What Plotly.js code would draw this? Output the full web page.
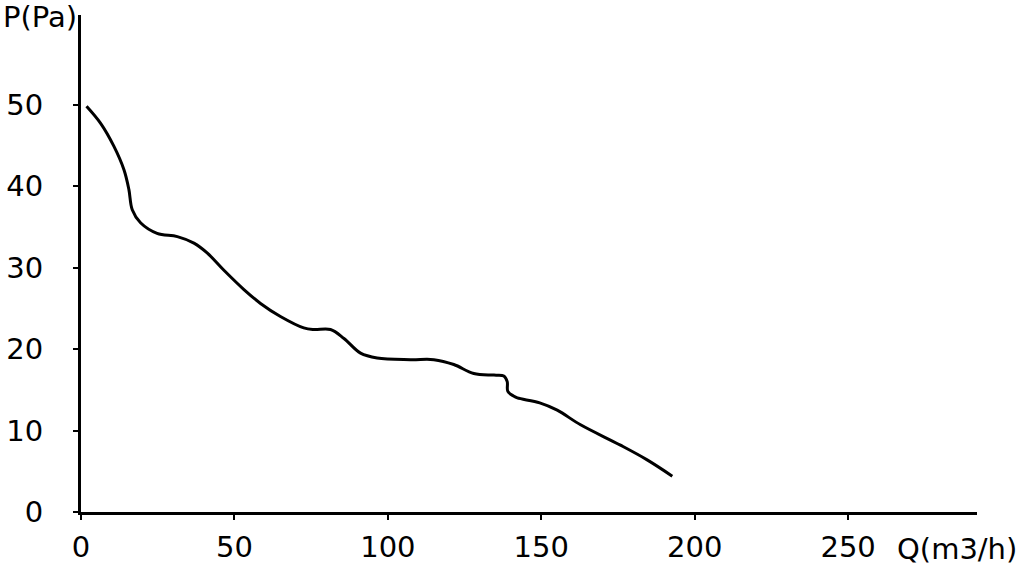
<!DOCTYPE html>
<html>
<head>
<meta charset="utf-8">
<script src="https://cdn.plot.ly/plotly-3.0.1.min.js"></script>
<style>html,body{margin:0;padding:0;background:#fff;}#chart{width:1019px;height:565px;}</style>
</head>
<body>
<div id="chart"></div>
<script>
const flowQ = [1.8, 6.4, 10.7, 14.0, 15.6, 16.7, 19.4, 24.8, 31.4, 36.8, 41.1, 46.5, 53.1, 58.5, 65.0, 72.6, 75.9, 81.3, 85.7, 91.1, 96.5, 107.4, 115.0, 121.5, 128.0, 134.6, 137.8, 138.9, 139.1, 141.1, 142.2, 149.5, 155.2, 162.8, 175.8, 184.5, 192.7];
const pressureP = [49.8, 47.7, 44.9, 42.0, 39.6, 37.1, 35.5, 34.2, 33.8, 33.0, 31.8, 29.7, 27.3, 25.6, 24.0, 22.6, 22.4, 22.4, 21.3, 19.5, 18.9, 18.7, 18.7, 18.1, 17.0, 16.8, 16.7, 16.0, 14.8, 14.2, 14.0, 13.4, 12.5, 10.7, 8.2, 6.4, 4.4];
const xTicks = [0, 50, 100, 150, 200, 250];
const yTicks = [0, 10, 20, 30, 40, 50];
const yLabel = "P(Pa)";
const xLabel = "Q(m3/h)";

const fontFam = "'DejaVu Sans', sans-serif";
const fsz = 29;
const trace = {
  x: flowQ, y: pressureP, type: 'scatter', mode: 'lines',
  line: {color: '#000', width: 3, shape: 'spline', smoothing: 1},
  hoverinfo: 'skip'
};
const L = 80.5, R = 42, T = 15, B = 53;
const pw = 1019 - L - R;
const ph = 565 - T - B;
const layout = {
  width: 1019, height: 565,
  margin: {l: L, r: R, t: T, b: B, pad: 0},
  paper_bgcolor: '#fff', plot_bgcolor: '#fff',
  showlegend: false,
  font: {family: fontFam, size: fsz, color: '#000'},
  xaxis: {
    range: [0, 292], tickvals: xTicks, ticktext: xTicks.map(String),
    showline: true, linecolor: '#000', linewidth: 3,
    ticks: 'outside', ticklen: 5, tickwidth: 2, tickcolor: '#000',
    showgrid: false, zeroline: false, fixedrange: true,
    ticklabelstandoff: 2,
    tickfont: {family: fontFam, size: fsz, color: '#000'}
  },
  yaxis: {
    range: [0, 61], tickvals: yTicks, ticktext: yTicks.map(String),
    showline: true, linecolor: '#000', linewidth: 3,
    ticks: 'outside', ticklen: 5, tickwidth: 2, tickcolor: '#000',
    showgrid: false, zeroline: false, fixedrange: true,
    ticklabelstandoff: 24,
    tickfont: {family: fontFam, size: fsz, color: '#000'}
  },
  annotations: [
    {text: yLabel, xref: 'paper', yref: 'paper', x: -L / pw, y: 1 - 2 / ph,
     xanchor: 'left', yanchor: 'middle', showarrow: false,
     font: {family: fontFam, size: fsz, color: '#000'}},
    {text: xLabel, xref: 'paper', yref: 'paper', x: (1019 - L) / pw, y: -37 / ph,
     xanchor: 'right', yanchor: 'middle', showarrow: false,
     font: {family: fontFam, size: fsz, color: '#000'}}
  ]
};
Plotly.newPlot('chart', [trace], layout, {displayModeBar: false, staticPlot: true});
</script>
</body>
</html>
